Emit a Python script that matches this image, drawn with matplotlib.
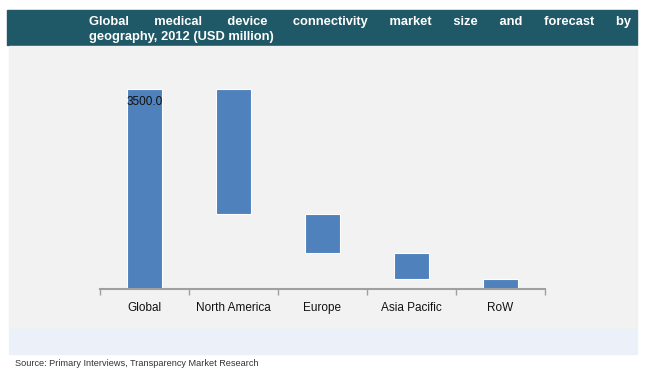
"""plot.py — waterfall of medical device connectivity market by geography, 2012 → out.png"""
import matplotlib
matplotlib.use("Agg")
import matplotlib.pyplot as plt
from matplotlib.patches import Rectangle

categories = ["Global", "North America", "Europe", "Asia Pacific", "RoW"]
values = [3500.0, 2190.0, 680.0, 455.0, 175.0]   # USD million
total_label = "3500.0"

TITLE_1 = "Global medical device connectivity market size and forecast by"
TITLE_2 = "geography, 2012 (USD million)"
SOURCE = "Source: Primary Interviews, Transparency Market Research"

W, H = 650, 379
BAR = "#4F81BD"
TSIZE = 9.3


def fx(px):
    return px / W


def fy(py):
    return 1 - py / H


def justify(fig, words, span, **kw):
    """Pad a line with spaces so that it roughly fills `span` pixels."""
    r = fig.canvas.get_renderer()

    def width(s):
        t = fig.text(0, 0, s, **kw)
        wd = t.get_window_extent(r).width
        t.remove()
        return wd

    words_w = sum(width(w) for w in words)
    space_w = (width("a" + " " * 20 + "a") - width("aa")) / 20
    n_total = max(len(words) - 1, round((span - words_w) / space_w))
    gaps = len(words) - 1
    base, extra = divmod(n_total, gaps)
    out = words[0]
    for i, w in enumerate(words[1:]):
        out += " " * (base + (1 if i < extra else 0)) + w
    return out


def main():
    plt.rcParams["font.family"] = ["Liberation Sans", "DejaVu Sans"]
    fig = plt.figure(figsize=(W / 100, H / 100), dpi=100)
    fig.patch.set_facecolor("white")

    # background panels
    for (x, y, w, h, c) in [(7, 10, 630, 35, "#1F5866"),
                            (9, 46, 628, 283, "#F2F2F2"),
                            (9, 329, 628, 25, "#ECF0F8")]:
        fig.patches.append(Rectangle((fx(x), fy(y + h)), fx(w), h / H,
                                     transform=fig.transFigure, color=c, zorder=-5))

    # title, first line stretched between x=89 and x=632
    tkw = dict(fontsize=TSIZE, weight="bold")
    line1 = justify(fig, TITLE_1.split(), 632 - 89, **tkw)
    fig.text(fx(89), fy(25.5), line1, color="white", va="baseline", **tkw)
    fig.text(fx(89), fy(40), TITLE_2, color="white", va="baseline", **tkw)

    # waterfall
    top_px, base_px = 60, 289
    ax = fig.add_axes([fx(100), fy(base_px), fx(445), (base_px - top_px) / H])
    ax.set_zorder(2)
    ax.set_facecolor("none")
    ymax = values[0] * (base_px - top_px) / (base_px - 89)
    bottoms = [0.0]
    level = values[0]
    for v in values[1:]:
        level -= v
        bottoms.append(level)
    xs = list(range(len(categories)))
    ax.bar(xs, values, bottom=bottoms, width=0.39, color=BAR, edgecolor="white", linewidth=0.8)
    ax.text(0, values[0] * 0.935, total_label, ha="center", va="center", fontsize=8.5,
            color="#111111")

    ax.set_xlim(-0.5, len(categories) - 0.5)
    ax.set_ylim(0, ymax)
    for s in ["top", "right", "left"]:
        ax.spines[s].set_visible(False)
    ax.spines["bottom"].set_color("#A0A0A0")
    ax.spines["bottom"].set_linewidth(1.5)
    ax.set_yticks([])
    ax.set_xticks([i - 0.5 for i in range(len(categories) + 1)])
    ax.set_xticklabels([])
    ax.tick_params(axis="x", which="major", length=4, width=1, color="#A0A0A0")
    ax.set_xticks(xs, minor=True)
    ax.set_xticklabels(categories, minor=True, fontsize=8.5, color="#111111")
    ax.tick_params(axis="x", which="minor", length=0, pad=9.5)

    fig.text(fx(15), fy(363), SOURCE, fontsize=6.55, color="#333333", va="center")

    fig.savefig("out.png", dpi=100, facecolor=fig.get_facecolor())


if __name__ == "__main__":
    main()
